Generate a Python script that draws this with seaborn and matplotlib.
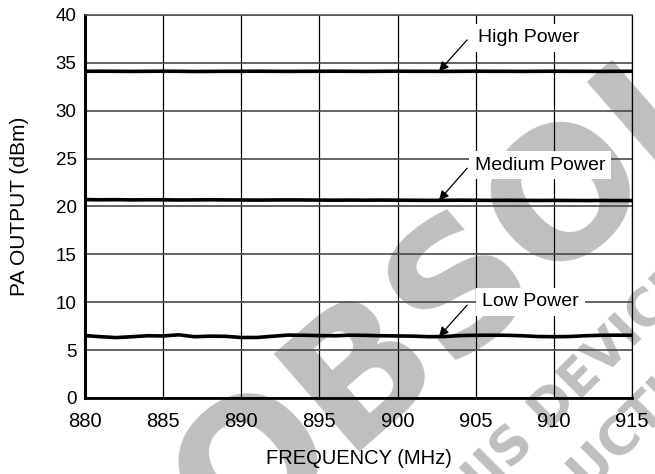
import numpy as np
import pandas as pd
import matplotlib
matplotlib.use("Agg")
import matplotlib.pyplot as plt
import seaborn as sns

# Frequency sweep (MHz) and measured PA output (dBm) for three power settings
freq_mhz = list(range(880, 916))
high_dbm = [34.12, 34.13, 34.12, 34.11, 34.12, 34.13, 34.12, 34.10, 34.11, 34.12,
            34.12, 34.13, 34.12, 34.11, 34.12, 34.12, 34.13, 34.12, 34.11, 34.12,
            34.13, 34.12, 34.12, 34.11, 34.12, 34.13, 34.12, 34.12, 34.11, 34.12,
            34.13, 34.12, 34.12, 34.11, 34.12, 34.12]
medium_dbm = [20.72, 20.70, 20.71, 20.69, 20.70, 20.70, 20.68, 20.69, 20.70, 20.69,
              20.68, 20.67, 20.68, 20.69, 20.68, 20.67, 20.66, 20.67, 20.66, 20.67,
              20.66, 20.65, 20.64, 20.65, 20.66, 20.65, 20.64, 20.65, 20.64, 20.63,
              20.64, 20.63, 20.62, 20.63, 20.62, 20.62]
low_dbm = [6.52, 6.40, 6.31, 6.40, 6.50, 6.48, 6.60, 6.40, 6.46, 6.44,
           6.32, 6.32, 6.45, 6.57, 6.55, 6.52, 6.50, 6.56, 6.54, 6.50,
           6.48, 6.46, 6.40, 6.42, 6.52, 6.55, 6.56, 6.55, 6.50, 6.42,
           6.40, 6.42, 6.50, 6.55, 6.56, 6.55]
series_names = ["High Power", "Medium Power", "Low Power"]

x_ticks = [880, 885, 890, 895, 900, 905, 910, 915]
y_ticks = [0, 5, 10, 15, 20, 25, 30, 35, 40]

df = pd.DataFrame({
    "freq": freq_mhz * 3,
    "dbm": high_dbm + medium_dbm + low_dbm,
    "setting": [n for n in series_names for _ in freq_mhz],
})

sns.set_theme(style="white")
plt.rcParams["font.family"] = ["Liberation Sans", "DejaVu Sans"]

fig = plt.figure(figsize=(6.55, 4.74), dpi=100)
ax = fig.add_axes([85 / 655, 1 - 398 / 474, (632 - 85) / 655, (398 - 15) / 474])
ax.patch.set_alpha(0)

# Background stamp across the sheet
stamp = "#bfbfbf"
fig.text(592 / 655, 1 - 176 / 474, "OBSOLETE", fontsize=128, fontweight="bold",
         family="DejaVu Sans", color=stamp, rotation=41, rotation_mode="anchor",
         ha="center", va="center", zorder=-5)
fig.text(432 / 655, 1 - 530 / 474, "THIS DEVICE IS NO LONGER", fontsize=37,
         fontweight="bold", family="DejaVu Sans", color=stamp, rotation=45,
         rotation_mode="anchor", ha="left", va="center", zorder=-5)
fig.text(462 / 655, 1 - 596 / 474, "PRODUCTION", fontsize=37,
         fontweight="bold", family="DejaVu Sans", color=stamp, rotation=45,
         rotation_mode="anchor", ha="left", va="center", zorder=-5)

sns.lineplot(data=df, x="freq", y="dbm", hue="setting", units="setting",
             estimator=None, palette=["black"] * 3, legend=False,
             linewidth=2.6, ax=ax, zorder=4)

ax.set_xlim(880, 915)
ax.set_ylim(0, 40)
ax.set_xticks(x_ticks)
ax.set_yticks(y_ticks)
ax.tick_params(axis="x", length=0, pad=10, labelsize=14.5, colors="black")
ax.tick_params(axis="y", length=0, pad=6, labelsize=13.5, colors="black")

ax.xaxis.grid(True, color="black", linewidth=0.9)
ax.yaxis.grid(True, color="#4a4a4a", linewidth=1.2)
ax.set_axisbelow(True)

ax.spines["left"].set_linewidth(2.2)
ax.spines["left"].set_color("black")
ax.spines["bottom"].set_linewidth(2.0)
ax.spines["bottom"].set_color("black")
ax.spines["right"].set_linewidth(0.9)
ax.spines["right"].set_color("black")
ax.spines["top"].set_linewidth(1.1)
ax.spines["top"].set_color("#505050")
for s in ax.spines.values():
    s.set_visible(True)
    s.set_zorder(5)

ax.set_xlabel("FREQUENCY (MHz)", fontsize=14.5, color="black", labelpad=13)
ax.set_ylabel("PA OUTPUT (dBm)", fontsize=15, color="black", labelpad=19)

# Callouts: label box plus an arrow down to each trace
callouts = [
    ("High Power", 905.15, 37.6, 904.45, 37.4, high_dbm),
    ("Medium Power", 904.95, 24.33, 904.45, 24.0, medium_dbm),
    ("Low Power", 905.4, 10.03, 904.45, 9.7, low_dbm),
]
x_head = 902.65
for label, tx, ty, ax_, ay_, values in callouts:
    y_head = float(np.interp(x_head, freq_mhz, values))
    ax.text(tx, ty, label, fontsize=14, ha="left", va="center", color="black",
            zorder=6,
            bbox=dict(boxstyle="square,pad=0.3", facecolor="white",
                      edgecolor="none"))
    ax.annotate("", xy=(x_head, y_head), xytext=(ax_, ay_),
                arrowprops=dict(arrowstyle="-|>", color="black", lw=0.9,
                                mutation_scale=14, shrinkA=0, shrinkB=0),
                zorder=7)

fig.savefig("out.png", dpi=100, facecolor="white")
